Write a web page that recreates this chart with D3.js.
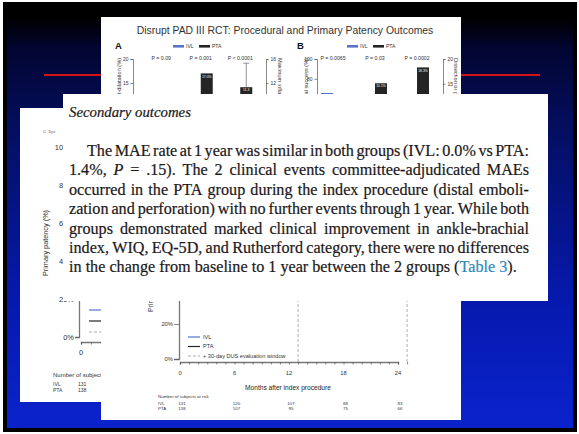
<!DOCTYPE html>
<html>
<head>
<meta charset="utf-8">
<script src="https://cdn.jsdelivr.net/npm/d3@7"></script>
<style>
  body { margin: 0; background: #fff; }
  svg { display: block; }
</style>
</head>
<body>
<svg id="chart" width="579" height="434"></svg>
<script>
// ---- data ----
var titleText = 'Disrupt PAD III RCT: Procedural and Primary Patency Outcomes';
var seriesNames = ['IVL', 'PTA'];

// panel A (left axis %, right axis atm)
var groupsA = ['Bailout stenting', 'Post-dilatation', 'Maximum inflation pressure'];
var pValuesA = ['P = 0.09', 'P = 0.001', 'P < 0.0001'];
var ivlA = [4.6, 3.8, 4.2];
var ptaA = [10.3, 17.0, 11.3];
var ptaErrTopA = [null, null, 15.3];
var sideA = ['left', 'left', 'right'];
var ticksLeftA = [0, 5, 10, 15, 20];
var ticksRightA = [0, 4, 8, 12, 16];

// panel B (left axis %, right axis %)
var groupsB = ['Procedural success', 'Residual stenosis', 'Dissection'];
var pValuesB = ['P = 0.0065', 'P = 0.03', 'P = 0.0002'];
var ivlB = [65.7, 6.9, 1.4];
var ptaB = [50.0, 15.1, 18.3];
var sideB = ['left', 'right', 'right'];
var ticksLeftB = [0, 20, 40, 60, 80, 100];
var ticksRightB = [0, 5, 10, 15, 20];

// Kaplan-Meier primary patency
var kmMonths = [0, 1, 2, 3, 4, 6, 8, 10, 12, 13, 15, 18, 21, 24, 25];
var ivlPatency = [100, 98.5, 97, 95.4, 94, 91.6, 88.5, 85.5, 82.4, 80.5, 77.8, 74.6, 72.1, 70.3, 70.3];
var ptaPatency = [100, 97.8, 95.6, 93.4, 91.2, 87.5, 83.8, 80.1, 76.9, 74.6, 71.5, 68.0, 65.2, 63.1, 63.1];
var kmTicks = [0, 20, 40, 60, 80, 100];
var monthTicks = [0, 6, 12, 18, 24];
var dusLines = [13, 25];
var riskMonths = [0, 6, 12, 18, 24];
var ivlAtRisk = [131, 120, 107, 88, 83];
var ptaAtRisk = [138, 107, 95, 75, 66];

// article text
var headingText = 'Secondary outcomes';
var paraLines = [
  'The MAE rate at 1 year was similar in both groups (IVL: 0.0% vs PTA:',
  '1.4%, *P* = .15). The 2 clinical events committee-adjudicated MAEs',
  'occurred in the PTA group during the index procedure (distal emboli-',
  'zation and perforation) with no further events through 1 year. While both',
  'groups demonstrated marked clinical improvement in ankle-brachial',
  'index, WIQ, EQ-5D, and Rutherford category, there were no differences',
  'in the change from baseline to 1 year between the 2 groups ([Table 3]).'
];

var blue = '#5873c8', dark = '#242424', grey = '#555';
var sans = 'Liberation Sans, Arial, sans-serif';
var serif = 'Liberation Serif, Times New Roman, serif';

// panel boxes: x, y, w, h
var boxL = [20, 108, 130, 294];
var boxT = [101, 17, 360, 403];
var boxX = [63, 94, 485, 207];

var svg = d3.select('#chart');
var defs = svg.append('defs');

// ---- slide background ----
var grad = defs.append('linearGradient').attr('id', 'bg')
  .attr('x1', 0).attr('y1', 0).attr('x2', 0).attr('y2', 1);
[[0, '#000000'], [0.03, '#000000'], [0.1, '#020531'], [0.3, '#040f62'], [0.7, '#0619ae'], [1, '#0a23cc']]
  .forEach(function (s) {
    grad.append('stop').attr('offset', s[0]).attr('stop-color', s[1]);
  });
svg.append('rect').attr('width', 579).attr('height', 434).attr('fill', '#fff');
svg.append('rect').attr('x', 3).attr('y', 2).attr('width', 574).attr('height', 430).attr('fill', '#000');
svg.append('rect').attr('x', 7).attr('y', 6).attr('width', 566).attr('height', 422).attr('fill', 'url(#bg)');
svg.append('line').attr('x1', 44).attr('x2', 540).attr('y1', 75).attr('y2', 75)
  .attr('stroke', '#d21414').attr('stroke-width', 2);

function panel(id, b) {
  defs.append('clipPath').attr('id', id).append('rect')
    .attr('x', b[0]).attr('y', b[1]).attr('width', b[2]).attr('height', b[3]);
  var g = svg.append('g').attr('clip-path', 'url(#' + id + ')');
  g.append('rect').attr('x', b[0]).attr('y', b[1]).attr('width', b[2]).attr('height', b[3]).attr('fill', '#fff');
  return g;
}

function styleAxis(g, size) {
  g.selectAll('path, line').attr('stroke', grey).attr('stroke-width', 0.7);
  g.selectAll('text').attr('font-family', sans).attr('font-size', size).attr('fill', '#333');
}

// drop labels that end up fully covered by a panel lying on top
function dropCovered(g, covers) {
  g.selectAll('text').each(function () {
    var r = this.getBoundingClientRect();
    var hidden = r.width === 0 || covers.some(function (b) {
      return r.left >= b[0] && r.right <= b[0] + b[2] && r.top >= b[1] && r.bottom <= b[1] + b[3];
    });
    if (hidden) d3.select(this).remove();
  });
}

// ---- KM curve helper ----
function drawKM(g, x, y, opt) {
  var line = d3.line().curve(d3.curveStepAfter)
    .x(function (d) { return x(d[0]); })
    .y(function (d) { return y(d[1]); });
  [[ivlPatency, blue], [ptaPatency, dark]].forEach(function (s) {
    g.append('path').datum(d3.zip(kmMonths, s[0]))
      .attr('fill', 'none').attr('stroke', s[1]).attr('stroke-width', opt.lw)
      .attr('d', line);
  });
  dusLines.forEach(function (m) {
    g.append('line').attr('x1', x(m)).attr('x2', x(m)).attr('y1', y(100)).attr('y2', opt.xAxisY)
      .attr('stroke', '#999').attr('stroke-width', 0.8).attr('stroke-dasharray', '3,2');
  });
  var ya = g.append('g').attr('transform', 'translate(' + opt.yAxisX + ',0)')
    .call(d3.axisLeft(y).tickValues(kmTicks).tickSize(opt.tick).tickPadding(1)
      .tickFormat(function (d) { return d + '%'; }));
  styleAxis(ya, opt.fs);
  ya.select('.domain').attr('stroke-width', 1.3).attr('stroke', '#777');
  var xa = g.append('g').attr('transform', 'translate(0,' + opt.xAxisY + ')')
    .call(d3.axisBottom(x).tickValues(d3.range(0, 26)).tickSize(2.5).tickFormat(''));
  styleAxis(xa, opt.fs);
  xa.select('.domain').attr('stroke-width', 1.3).attr('stroke', '#777');
  g.append('g').selectAll('text').data(monthTicks).join('text')
    .attr('x', function (d) { return x(d); }).attr('y', opt.xAxisY + 13)
    .attr('text-anchor', 'middle').attr('font-family', sans).attr('font-size', opt.fs).attr('fill', '#333')
    .text(function (d) { return d; });
  // legend
  var lg = opt.legend;
  [[blue, 'IVL', null], [dark, 'PTA', null], ['#999', '+ 30-day DUS evaluation window', '3,2']]
    .forEach(function (d, i) {
      g.append('line').attr('x1', lg.x).attr('x2', lg.x + lg.len)
        .attr('y1', lg.y + i * lg.step).attr('y2', lg.y + i * lg.step)
        .attr('stroke', d[0]).attr('stroke-width', d[2] ? 0.8 : 1.2).attr('stroke-dasharray', d[2]);
      g.append('text').attr('x', lg.x + lg.len + 3).attr('y', lg.y + i * lg.step + lg.fs * 0.35)
        .attr('font-family', sans).attr('font-size', lg.fs).attr('fill', '#333').text(d[1]);
    });
}

// ---- left panel (journal figure, mostly hidden) ----
var gl = panel('clipL', boxL);
gl.append('text').attr('x', 43).attr('y', 133).attr('font-family', serif).attr('font-style', 'italic')
  .attr('font-size', 4).attr('fill', '#666').text('G. Tepe');
var xL = d3.scaleLinear().domain([0, 24]).range([81, 319]);
var yL = d3.scaleLinear().domain([0, 100]).range([337, 147]);
drawKM(gl, xL, yL, { lw: 1.3, xAxisY: 342, yAxisX: 79, tick: 4, fs: 7.5,
  legend: { x: 89, y: 310, len: 12, step: 11, fs: 6 } });
gl.append('text').attr('transform', 'translate(48,243) rotate(-90)').attr('text-anchor', 'middle')
  .attr('font-family', sans).attr('font-size', 7.3).attr('fill', '#333').text('Primary patency (%)');
gl.append('text').attr('x', 53).attr('y', 377).attr('font-family', sans).attr('font-size', 6)
  .attr('fill', '#333').text('Number of subjects at risk');
[[seriesNames[0], ivlAtRisk], [seriesNames[1], ptaAtRisk]].forEach(function (r, i) {
  var ty = 386 + i * 6;
  gl.append('text').attr('x', 53).attr('y', ty).attr('font-family', sans).attr('font-size', 5)
    .attr('fill', '#333').text(r[0]);
  gl.selectAll(null).data(riskMonths).join('text')
    .attr('x', function (d) { return xL(d) - 3; }).attr('y', ty)
    .attr('font-family', sans).attr('font-size', 5).attr('fill', '#333')
    .text(function (d, k) { return r[1][k]; });
});

// ---- top panel (slide figure) ----
var gt = panel('clipT', boxT);
gt.append('text').attr('x', 285).attr('y', 34).attr('text-anchor', 'middle')
  .attr('font-family', sans).attr('font-size', 10.4).attr('fill', '#333').text(titleText);

function drawBars(cfg) {
  var g = gt.append('g');
  var x = d3.scaleBand().domain(cfg.groups).range(cfg.range);
  var yl = d3.scaleLinear().domain([0, d3.max(cfg.ticksL)]).range([cfg.y0, 59]);
  var yr = d3.scaleLinear().domain([0, d3.max(cfg.ticksR)]).range([cfg.y0, 59]);
  g.append('text').attr('x', cfg.letterX).attr('y', 49).attr('font-family', sans)
    .attr('font-weight', 'bold').attr('font-size', 9.5).attr('fill', '#111').text(cfg.letter);
  seriesNames.forEach(function (s, i) {
    var lx = cfg.legendX + i * 26;
    g.append('rect').attr('x', lx).attr('y', 45).attr('width', 11).attr('height', 2.6)
      .attr('fill', i ? dark : blue);
    g.append('text').attr('x', lx + 13).attr('y', 48).attr('font-family', sans).attr('font-size', 5)
      .attr('fill', '#333').text(s);
  });
  g.selectAll('.pv').data(cfg.pvals).join('text')
    .attr('x', function (d, i) { return x.bandwidth() / 2 + x(cfg.groups[i]); })
    .attr('y', 60).attr('text-anchor', 'middle').attr('font-family', sans).attr('font-size', 5.2)
    .attr('fill', '#333').text(function (d) { return d; });
  var bw = 12;
  var rows = [];
  cfg.groups.forEach(function (grp, i) {
    var ys = cfg.side[i] === 'left' ? yl : yr;
    rows.push({ x: x(grp) + x.bandwidth() / 2 - bw, v: cfg.ivl[i], y: ys, c: blue, pct: cfg.pct[i] });
    rows.push({ x: x(grp) + x.bandwidth() / 2, v: cfg.pta[i], y: ys, c: dark, pct: cfg.pct[i], err: cfg.err && cfg.err[i] });
  });
  rows.forEach(function (r) {
    if (r.err) {
      var cx = r.x + bw / 2;
      g.append('line').attr('x1', cx).attr('x2', cx).attr('y1', r.y(r.v)).attr('y2', r.y(r.err))
        .attr('stroke', '#666').attr('stroke-width', 0.7);
      g.append('line').attr('x1', cx - 3).attr('x2', cx + 3).attr('y1', r.y(r.err)).attr('y2', r.y(r.err))
        .attr('stroke', '#666').attr('stroke-width', 0.7);
    }
  });
  g.selectAll('.bar').data(rows).join('rect')
    .attr('x', function (d) { return d.x; }).attr('width', bw)
    .attr('y', function (d) { return d.y(d.v); })
    .attr('height', function (d) { return d.y(0) - d.y(d.v); })
    .attr('fill', function (d) { return d.c; });
  g.selectAll('.lab').data(rows).join('text')
    .attr('x', function (d) { return d.x + bw / 2; })
    .attr('y', function (d) { return d.y(d.v) + 4.2; })
    .attr('text-anchor', 'middle').attr('font-family', sans).attr('font-size', 3.4).attr('fill', '#fff')
    .text(function (d) { return d.v.toFixed(1) + (d.pct ? '%' : ''); });
  var al = g.append('g').attr('transform', 'translate(' + cfg.axL + ',0)')
    .call(d3.axisLeft(yl).tickValues(cfg.ticksL).tickSize(2.5).tickPadding(2));
  styleAxis(al, 5);
  var ar = g.append('g').attr('transform', 'translate(' + cfg.axR + ',0)')
    .call(d3.axisRight(yr).tickValues(cfg.ticksR).tickSize(2.5).tickPadding(2));
  styleAxis(ar, 5);
  g.append('text').attr('transform', 'translate(' + cfg.labLX + ',58) rotate(-90)').attr('text-anchor', 'end')
    .attr('font-family', sans).attr('font-size', 5.6).attr('fill', '#333').text(cfg.labL);
  g.append('text').attr('transform', 'translate(' + cfg.labRX + ',58) rotate(90)')
    .attr('font-family', sans).attr('font-size', 5.6).attr('fill', '#333').text(cfg.labR);
}

drawBars({ letter: 'A', letterX: 115, legendX: 173, groups: groupsA, pvals: pValuesA,
  ivl: ivlA, pta: ptaA, err: ptaErrTopA, side: sideA, pct: [true, true, false],
  ticksL: ticksLeftA, ticksR: ticksRightA, range: [141.5, 260], y0: 155, axL: 133, axR: 266,
  labL: 'Post-dilatation (%)', labLX: 121, labR: 'Maximum inflation pressure (atm)', labRX: 278 });
drawBars({ letter: 'B', letterX: 297, legendX: 347, groups: groupsB, pvals: pValuesB,
  ivl: ivlB, pta: ptaB, side: sideB, pct: [true, true, true],
  ticksL: ticksLeftB, ticksR: ticksRightB, range: [312, 438], y0: 158, axL: 317, axR: 443,
  labL: 'Procedural success (%)', labLX: 308, labR: 'Dissection or perforation (%)', labRX: 454 });

var xT = d3.scaleLinear().domain([0, 24]).range([180, 398]);
var yT = d3.scaleLinear().domain([0, 100]).range([359, 184]);
drawKM(gt, xT, yT, { lw: 1.2, xAxisY: 362, yAxisX: 179, tick: 5, fs: 5.8,
  legend: { x: 188, y: 337, len: 12, step: 9.5, fs: 5.6 } });
gt.append('text').attr('transform', 'translate(153,312) rotate(-90)')
  .attr('font-family', sans).attr('font-size', 7).attr('fill', '#333').text('Primary patency (%)');
gt.append('text').attr('x', 288).attr('y', 390).attr('text-anchor', 'middle')
  .attr('font-family', sans).attr('font-size', 6.6).attr('fill', '#222').text('Months after index procedure');
gt.append('text').attr('x', 158).attr('y', 398).attr('font-family', sans).attr('font-size', 4.4)
  .attr('fill', '#333').text('Number of subjects at risk');
[[seriesNames[0], ivlAtRisk], [seriesNames[1], ptaAtRisk]].forEach(function (r, i) {
  var ty = 404.5 + i * 5;
  gt.append('text').attr('x', 158).attr('y', ty).attr('font-family', sans).attr('font-size', 4.4)
    .attr('fill', '#333').text(r[0]);
  gt.selectAll(null).data(riskMonths).join('text')
    .attr('x', function (d) { return xT(d) + 2; }).attr('y', ty).attr('text-anchor', 'middle')
    .attr('font-family', sans).attr('font-size', 4.4).attr('fill', '#333')
    .text(function (d, k) { return r[1][k]; });
});

dropCovered(gl, [boxT, boxX]);
dropCovered(gt, [boxX]);

// ---- article text panel ----
var gx = panel('clipX', boxX);
var textCol = '#1c1819', linkCol = '#2b8bb8';
var left = 69, right = 529, indent = 87;

function measure(str, size, italic) {
  var t = gx.append('text').attr('font-family', serif).attr('font-size', size)
    .attr('font-style', italic ? 'italic' : null).text(str);
  var w = t.node().getComputedTextLength();
  t.remove();
  return w;
}
var lastPlain = paraLines[paraLines.length - 1].replace(/[\*\[\]]/g, '');
var fs = 16 * 448 / measure(lastPlain, 16);
var hs = 16 * 122 / measure(headingText, 16, true);
var spaceW = measure('a a', fs) - measure('aa', fs);

gx.append('text').attr('x', left).attr('y', 117).attr('font-family', serif).attr('font-style', 'italic')
  .attr('font-size', hs).attr('fill', textCol).attr('stroke', textCol).attr('stroke-width', 0.2)
  .text(headingText);

function drawLine(str, x0, x1, y, justify) {
  var state = { i: false, c: false };
  var items = str.split(' ').map(function (w) {
    var t = gx.append('text').attr('y', y).attr('font-family', serif).attr('font-size', fs)
      .attr('fill', textCol).attr('stroke', textCol).attr('stroke-width', 0.2);
    var buf = '';
    function flush() {
      if (!buf) return;
      t.append('tspan').attr('font-style', state.i ? 'italic' : null)
        .attr('fill', state.c ? linkCol : null).attr('stroke', state.c ? linkCol : null).text(buf);
      buf = '';
    }
    for (var k = 0; k < w.length; k++) {
      var ch = w[k];
      if (ch === '*') { flush(); state.i = !state.i; }
      else if (ch === '[') { flush(); state.c = true; }
      else if (ch === ']') { flush(); state.c = false; }
      else buf += ch;
    }
    flush();
    return { node: t, w: t.node().getComputedTextLength() };
  });
  var total = d3.sum(items, function (d) { return d.w; });
  var gap = justify ? (x1 - x0 - total) / (items.length - 1) : spaceW;
  var x = x0;
  items.forEach(function (d) { d.node.attr('x', x); x += d.w + gap; });
}

paraLines.forEach(function (s, i) {
  drawLine(s, i === 0 ? indent : left, right, 156 + i * 19.4, i < paraLines.length - 1);
});
</script>
</body>
</html>
